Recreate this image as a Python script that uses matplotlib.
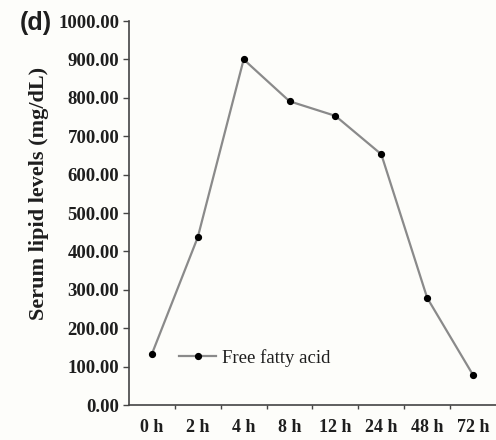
import matplotlib.pyplot as plt
import numpy as np

# time points and free fatty acid levels (mg/dL)
times = ['0 h', '2 h', '4 h', '8 h', '12 h', '24 h', '48 h', '72 h']
ffa = [133, 437, 900, 791, 753, 653, 279, 78]
yticks = np.arange(0, 1001, 100)

txt = '#1e1e1e'
fig = plt.figure(figsize=(4.96, 4.4), dpi=100, facecolor='#fdfdfa')
ax = fig.add_axes([0.26, 0.0795, 0.74, 0.8727])
ax.set_facecolor('#fdfdfa')

pos = np.arange(len(times)) + 0.5
ax.plot(pos, ffa, color='#8a8a8a', linewidth=1.6, marker='o', markersize=4.2,
        markerfacecolor='black', markeredgecolor='black', label='Free fatty acid')

ax.set_xlim(0, len(times))
ax.set_ylim(0, 1000)

# category labels centred, tick marks between categories
ax.set_xticks(np.arange(1, len(times)))
ax.set_xticklabels([])
ax.set_xticks(pos, minor=True)
ax.set_xticklabels(times, minor=True, fontfamily='Liberation Serif',
                   fontweight='bold', fontsize=13, color=txt)
ax.tick_params(axis='x', which='major', length=3, width=1, color='#444444')
ax.tick_params(axis='x', which='minor', length=0, pad=10)

ax.set_yticks(yticks)
ax.set_yticklabels(['%.2f' % v for v in yticks], fontfamily='Liberation Serif',
                   fontweight='bold', fontsize=13.5, color=txt)
ax.tick_params(axis='y', length=4, width=1, color='#444444', pad=3)

for s in ['top', 'right']:
    ax.spines[s].set_visible(False)
for s in ['left', 'bottom']:
    ax.spines[s].set_color('#444444')
    ax.spines[s].set_linewidth(1.2)

ax.set_ylabel('Serum lipid levels (mg/dL)', fontfamily='Liberation Serif',
              fontweight='bold', fontsize=16, color=txt)
ax.yaxis.set_label_coords(-0.217, 0.552)

ax.legend(loc='lower left', bbox_to_anchor=(0.09, 0.055), frameon=False,
          prop={'family': 'Liberation Serif', 'size': 13.5},
          handlelength=2.0, handletextpad=0.3, labelcolor=txt)

fig.text(0.04, 0.948, '(d)', fontfamily='Liberation Sans', fontweight='bold',
         fontsize=18, va='center', ha='left', color=txt)

fig.savefig('out.png', dpi=100, facecolor=fig.get_facecolor())
